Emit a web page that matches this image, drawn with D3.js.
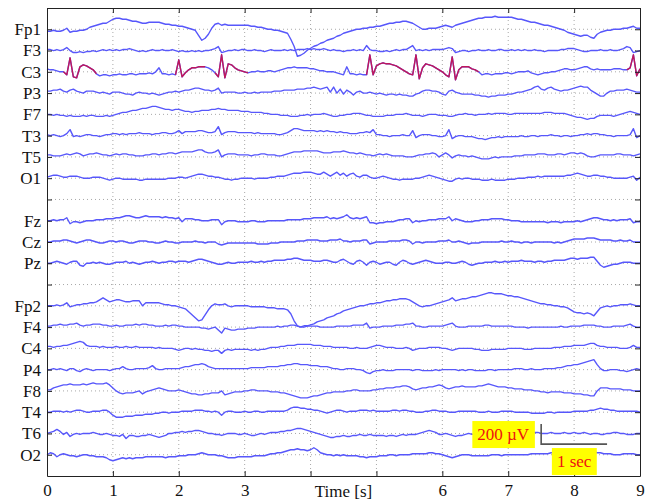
<!DOCTYPE html>
<html>
<head>
<meta charset="utf-8">
<script src="https://cdn.jsdelivr.net/npm/d3@7"></script>
<style>
  body { margin: 0; background: #fff; }
  svg { display: block; }
</style>
</head>
<body>
<svg id="chart" width="645" height="504"></svg>
<script>
// ---- recording layout -------------------------------------------------
const SAMPLE_STEP = 0.05;           // seconds between samples
const DURATION = 9;                 // seconds shown
const SLOT_UV = 212.7;              // vertical spacing between montage rows, in µV

// montage rows, top to bottom ("" = spacer row)
const slotLabels = ["Fp1","F3","C3","P3","F7","T3","T5","O1","",
                    "Fz","Cz","Pz","",
                    "Fp2","F4","C4","P4","F8","T4","T6","O2"];

const timeTicks = [0,1,2,3,4,5,6,7,8,9];
const timeTickLabels = ["0","1","2","3","","","6","7","8","9"];

// spike-and-wave complexes on C3 (start, end) in seconds
const c3Complexes = [[0.24,0.76],[1.94,2.40],[2.53,3.05],[4.83,5.46],[5.49,6.07],[6.07,6.57],[8.77,9.0]];

// scale bar: 200 µV by 1 s
const scaleBarUV = 200;
const scaleBarSec = 1;

// ---- channel samples (µV, one every 0.05 s) ---------------------------
const fp1 = [-20,-20,-10,-20,-20,-10,10,-30,-20,-20,
 -10,-10,0,20,30,40,50,60,60,80,
 100,110,110,100,100,90,80,80,70,60,
 60,70,70,70,70,60,50,50,40,40,
 30,30,20,10,0,-10,-60,-110,-90,-50,
 10,50,60,40,50,40,40,40,40,40,
 40,40,30,30,20,20,10,0,0,-10,
 -10,-20,-30,-40,-100,-170,-270,-260,-240,-210,
 -190,-170,-160,-140,-130,-110,-100,-90,-70,-60,
 -40,-30,-20,-10,0,0,10,10,20,20,
 30,30,40,50,60,60,70,70,80,80,
 70,60,40,20,0,0,10,10,10,20,
 30,40,30,20,40,50,60,70,80,90,
 100,110,110,120,120,120,130,120,120,120,
 120,120,110,100,100,90,80,70,70,60,
 50,40,40,30,20,10,0,-10,-30,-40,
 -50,-60,-70,-60,-60,-80,-90,-50,-30,-20,
 -10,-10,0,0,0,10,10,20,30,10,
 10];

const f3 = [10,10,0,10,0,10,30,0,-20,-20,
 -10,-20,-10,-10,0,-10,0,10,0,10,
 0,10,0,10,10,20,10,0,-10,0,
 -10,0,10,0,0,10,0,0,10,0,
 -10,0,-10,-10,0,-10,0,-10,0,0,
 10,20,40,-20,-10,0,0,10,0,10,
 10,0,0,10,0,0,-10,0,10,0,
 0,0,10,0,10,0,10,10,10,20,
 10,20,10,10,20,10,0,10,0,0,
 -10,0,0,10,0,10,0,50,10,0,
 0,-10,-10,0,-10,0,10,0,10,10,
 30,50,0,10,0,10,0,10,10,10,
 10,20,30,20,-20,-10,0,0,-10,0,
 0,10,0,0,10,0,0,10,10,0,
 0,10,0,10,0,10,0,0,10,0,
 0,-10,0,0,0,0,10,10,20,20,
 20,10,0,-10,-10,0,0,0,10,0,
 0,10,0,0,10,20,40,30,-20,-10,
 0];

const c3 = [30,20,20,10,0,0,-30,140,-50,-60,
 50,70,60,40,20,-20,-40,-30,-30,-40,
 -30,-30,-20,-30,-30,-20,-20,-30,-20,-20,
 -20,-10,-20,0,40,-20,-20,-30,-20,-30,
 120,-50,-10,20,40,40,50,50,50,40,
 20,-10,-50,170,-60,80,70,40,20,10,
 0,-10,0,0,10,0,0,10,10,0,
 10,20,30,40,40,50,40,40,40,40,
 30,30,20,10,10,0,0,0,-10,-20,
 -30,50,-20,-20,-30,-20,-30,-30,170,-30,
 60,80,90,80,80,70,60,40,20,0,
 -20,-30,170,-70,40,80,70,60,40,20,
 0,-30,-50,150,-80,20,50,50,50,30,
 20,0,-30,-20,-20,-30,-20,-20,-20,-10,
 -10,-20,-10,0,0,0,10,-10,-20,-30,
 -20,-10,-10,0,0,10,20,30,30,20,
 20,30,40,50,50,30,20,30,20,20,
 20,20,30,30,30,20,20,40,170,-40,
 30];

const p3 = [20,20,30,30,40,20,10,30,40,20,
 10,0,20,20,20,10,0,10,0,-10,
 10,10,10,0,-10,-10,-20,0,10,0,
 0,-10,0,-10,-20,-10,0,10,10,20,
 10,20,30,30,40,50,50,40,30,30,
 20,30,50,0,10,10,10,10,0,0,
 10,0,0,10,0,10,10,10,10,20,
 20,20,30,30,30,30,40,40,40,50,
 50,60,50,40,50,60,10,60,0,40,
 -10,30,10,-20,10,20,0,0,10,0,
 -10,0,-10,-20,-10,-10,-20,-10,-20,-20,
 -30,-30,-10,0,20,30,30,20,20,10,
 -10,-20,20,30,10,0,-10,-10,-10,-10,
 -20,-20,-30,-30,-40,-30,-30,-20,-20,-20,
 -10,-10,0,10,10,20,30,40,60,70,
 40,30,50,60,40,30,20,30,30,40,
 50,60,70,60,60,30,10,-10,-30,-30,
 0,20,20,30,30,30,40,30,20,10,
 10];

const f7 = [0,0,-10,0,-10,-10,-20,-10,-20,-20,
 -20,-10,-20,-10,-10,-20,-20,-20,-10,-20,
 -10,0,10,20,20,30,40,40,50,60,
 60,70,80,80,70,60,50,50,40,50,
 50,40,30,30,20,30,30,40,40,40,
 50,50,60,50,50,40,40,40,40,30,
 30,30,20,20,20,20,10,10,0,0,
 0,-10,-10,-10,-20,-20,-20,-10,-10,0,
 -10,0,0,0,10,0,-10,-20,-20,-10,
 -10,0,0,10,10,10,0,-10,-10,-20,
 -20,-20,-20,-10,-10,-10,0,0,0,10,
 0,-10,-10,-10,-20,-10,0,0,0,-10,
 -10,-10,-20,-20,-10,0,0,10,0,0,
 -10,0,0,0,10,0,10,10,10,10,
 0,0,10,10,10,10,10,10,10,10,
 10,20,20,20,10,10,10,10,0,-10,
 -20,-30,-30,-40,-50,-40,-40,-20,-10,-10,
 -10,-10,-20,-10,0,10,20,30,20,10,
 0];

const t3 = [10,0,10,0,-10,0,20,60,-10,0,
 -10,0,10,10,0,0,-10,0,10,10,
 20,20,10,20,10,20,20,20,30,20,
 20,20,10,20,20,30,30,20,20,30,
 50,20,40,40,40,40,50,50,40,30,
 30,40,90,10,30,40,40,40,30,30,
 30,30,30,20,30,20,20,20,20,20,
 10,10,20,30,50,70,70,60,50,50,
 50,50,40,50,40,50,40,40,30,40,
 30,30,20,20,20,30,30,40,30,60,
 10,10,0,0,-10,0,0,0,10,0,
 0,50,-20,0,10,10,10,0,0,-10,
 -10,0,60,-30,-10,0,0,-10,-10,-10,
 -20,-30,-30,-40,-30,-20,-20,-10,-20,-10,
 -10,-10,-10,-10,0,-10,-10,0,0,-10,
 0,0,0,10,0,0,-10,0,0,-10,
 0,0,10,10,20,10,20,20,10,10,
 0,0,-10,0,0,0,0,10,70,-20,
 0];

const t5 = [20,20,10,10,10,20,30,20,30,40,
 30,10,20,30,30,40,30,20,20,10,
 20,30,20,30,30,20,20,10,10,10,
 20,20,30,30,20,30,30,40,40,30,
 40,50,50,50,50,60,70,70,50,40,
 40,50,70,0,20,30,30,30,20,20,
 20,20,10,20,20,30,30,20,20,20,
 10,10,20,30,40,50,50,50,60,60,
 60,60,60,50,40,40,40,50,50,50,
 60,50,40,40,30,40,30,20,20,10,
 20,30,20,30,20,10,10,10,10,0,
 0,0,10,20,20,30,30,40,30,0,
 20,40,20,-10,10,20,10,10,0,10,
 0,-10,-20,-20,-20,-10,0,-10,0,0,
 0,0,10,10,10,20,20,20,20,30,
 30,30,20,20,20,30,30,20,30,40,
 40,30,40,30,10,0,0,10,20,20,
 20,20,20,30,30,20,20,20,10,20,
 30];

const o1 = [10,20,30,30,20,10,10,20,20,20,
 10,0,0,0,10,10,10,0,-10,-20,
 -10,0,0,-10,-10,-10,-10,-10,-20,-20,
 -10,-10,-10,-10,-10,-10,-10,0,0,0,
 10,10,0,10,20,30,40,40,30,20,
 20,10,10,0,-10,-10,-20,-10,-10,0,
 0,0,0,-10,0,0,0,0,10,10,
 20,20,20,30,40,50,50,50,60,60,
 60,50,40,40,60,40,20,40,60,30,
 50,20,40,50,20,10,30,30,10,0,
 0,10,20,10,0,-10,-10,-20,-10,-10,
 -10,-10,0,0,10,20,30,20,10,0,
 -10,-20,-30,-30,-10,0,-10,0,0,-10,
 -10,-10,-20,-20,-20,-10,-20,-20,-20,-20,
 -10,-10,-10,0,0,0,10,10,10,20,
 10,20,20,20,20,20,20,20,30,30,
 40,50,40,30,20,20,30,30,20,20,
 10,10,0,0,0,0,0,10,20,-20,
 10];

const fz = [0,0,10,0,10,10,30,-30,-10,-10,
 -20,-10,0,0,0,10,10,10,20,20,
 20,30,30,40,50,50,40,30,30,40,
 50,40,40,40,40,30,40,30,30,20,
 30,-10,20,20,20,10,10,0,0,0,
 10,10,10,-40,-10,0,0,0,-10,-10,
 -10,-10,0,0,-10,-10,-10,0,0,0,
 0,0,0,10,10,10,10,10,20,20,
 20,30,30,30,30,40,20,30,20,30,
 40,60,30,20,30,20,30,40,-20,-20,
 -30,-20,-20,-10,-10,-10,0,10,10,20,
 20,-20,0,-10,0,0,10,10,10,20,
 20,20,40,0,20,10,0,-10,-10,-10,
 0,0,10,10,10,20,20,20,20,10,
 10,0,0,0,-10,-10,-10,-10,-10,-10,
 -10,-10,-20,-10,-10,-10,-20,-10,-10,-10,
 -10,0,-10,0,10,20,30,30,20,10,
 10,0,10,0,10,10,10,20,-20,-10,
 -10];

const cz = [0,0,10,10,10,20,20,10,0,-10,
 0,10,20,20,10,0,-10,-10,0,10,
 10,0,10,10,0,-10,-10,0,10,10,
 10,0,0,-10,-10,0,10,0,0,-10,
 -10,0,0,0,0,10,0,0,-10,0,
 0,0,-20,-30,-20,-10,-10,-10,-10,-10,
 -10,-10,-10,-10,-20,-20,-20,-20,-10,-10,
 -10,0,0,0,0,0,10,10,10,20,
 20,20,20,10,10,10,20,20,20,30,
 10,10,0,10,10,10,20,20,-20,-10,
 0,0,0,0,10,10,10,10,20,20,
 10,-20,0,0,-10,0,0,0,0,10,
 10,10,20,0,0,10,0,-10,-20,-10,
 -10,-10,0,0,0,0,0,0,10,0,
 0,10,0,0,-10,0,0,-10,0,0,
 0,0,0,0,-10,0,-10,0,10,20,
 30,30,30,30,40,40,40,30,20,20,
 20,20,10,10,20,10,10,20,0,0,
 0];

const pz = [0,0,10,20,10,0,-10,10,20,20,
 -20,-30,0,0,10,0,10,0,-10,-10,
 0,10,10,10,20,0,10,0,-10,0,
 10,10,20,10,0,10,10,20,20,10,
 20,20,20,10,20,30,40,40,30,20,
 10,0,-10,-10,0,10,0,0,10,10,
 10,10,20,10,10,20,10,20,20,30,
 30,30,30,40,40,50,50,40,30,30,
 30,20,20,20,30,30,20,10,10,30,
 40,20,0,-10,20,30,10,-20,10,20,
 10,-10,0,10,10,-10,-20,10,30,20,
 0,-10,0,10,20,30,20,10,0,0,
 0,10,10,0,0,10,20,10,-10,-20,
 -10,0,0,10,10,10,20,10,10,20,
 10,20,20,20,30,20,20,20,10,20,
 20,10,20,20,30,30,30,30,40,50,
 50,40,50,50,50,60,60,20,-20,-40,
 -30,-20,-10,-10,0,10,10,10,0,0,
 0];

const fp2 = [0,0,0,10,0,10,30,-10,0,10,
 10,20,20,30,30,40,60,80,60,40,
 50,60,60,50,40,40,50,50,50,0,
 30,30,30,30,30,20,10,10,0,0,
 -10,-20,-30,-60,-90,-120,-150,-140,-90,-40,
 0,20,10,10,20,0,-10,0,0,0,
 0,0,-10,-10,-10,-10,-10,-20,-20,-20,
 -30,-30,-30,-40,-80,-150,-200,-210,-200,-200,
 -190,-180,-160,-150,-140,-120,-110,-100,-80,-70,
 -50,-40,-30,-20,-10,0,0,10,20,20,
 30,30,40,50,50,60,60,70,70,70,
 60,40,20,0,-10,0,0,10,20,30,
 40,50,60,80,50,60,70,70,80,90,
 90,100,110,120,130,130,120,120,120,110,
 100,100,90,90,80,70,60,50,40,30,
 20,20,10,10,0,0,-10,-10,-20,-40,
 -60,-70,-70,-80,-70,-80,-100,-60,-20,-10,
 0,-10,0,0,10,10,10,20,10,0,
 0];

const f4 = [10,10,20,20,30,20,20,30,30,40,
 20,10,20,20,30,30,30,20,20,10,
 10,20,10,10,20,20,20,30,20,30,
 30,20,20,10,10,10,20,10,20,20,
 10,10,0,0,0,0,0,-10,-10,-20,
 -10,0,-30,-60,-10,-20,-30,-30,-20,-20,
 -20,-10,-10,-10,0,0,0,0,0,0,
 10,0,10,10,20,20,10,0,0,10,
 10,10,10,0,0,0,0,0,10,10,
 10,10,10,20,20,20,20,40,-10,0,
 0,0,10,10,10,10,20,20,20,30,
 30,40,10,10,0,0,10,10,10,10,
 10,20,30,40,10,0,0,0,10,10,
 10,10,10,20,20,10,10,10,10,10,
 10,10,0,0,0,0,-10,0,0,0,
 0,0,0,0,0,0,10,0,0,10,
 10,10,10,20,20,20,20,10,10,0,
 0,0,10,10,10,10,20,30,10,0,
 0];

const c4 = [20,20,10,20,20,30,30,40,50,60,
 70,60,30,20,20,20,10,20,10,10,
 10,20,10,10,20,10,10,20,10,10,
 10,10,10,0,10,0,0,0,0,-10,
 -20,-10,0,0,-10,0,-10,-10,-20,-20,
 -30,-20,-20,-50,-20,-10,-20,-10,-10,-10,
 -10,-10,-20,-10,-20,-10,-10,0,10,10,
 10,20,20,30,30,30,40,40,40,40,
 40,30,30,30,20,20,20,10,10,10,
 10,10,0,0,10,0,0,0,10,20,
 30,30,20,10,10,10,0,0,0,10,
 0,-20,-10,0,0,0,10,10,10,10,
 0,0,-10,-20,-10,0,0,0,0,0,
 -10,-10,-20,-20,-20,-10,-10,-10,-10,-10,
 0,0,0,0,0,-10,-10,-10,0,0,
 0,0,0,0,10,10,10,20,20,20,
 30,30,30,30,40,50,50,30,20,20,
 10,10,10,10,0,0,0,10,30,10,
 10];

const p4 = [0,0,10,0,10,0,-10,10,10,-10,
 -20,0,10,0,-10,0,0,0,0,-10,
 0,10,10,30,10,0,0,10,10,10,
 10,20,40,10,0,0,10,10,10,10,
 10,20,30,30,40,50,50,60,50,30,
 20,10,10,10,10,10,10,10,10,10,
 10,10,20,20,20,20,20,30,30,30,
 30,40,40,50,50,60,60,50,50,50,
 40,40,40,30,30,30,20,10,10,0,
 0,10,10,10,0,0,-10,-30,-40,-20,
 -10,-10,0,-10,-10,-10,0,0,0,0,
 0,-10,0,0,-10,-10,-10,-10,0,-10,
 0,0,0,0,0,-10,0,-10,0,0,
 -10,-10,-10,-10,0,0,-10,0,0,0,
 0,0,10,10,10,0,0,10,0,0,
 0,10,10,10,10,20,20,30,40,40,
 50,50,60,70,80,90,100,50,10,-10,
 -10,0,0,0,-10,-10,-20,-10,0,10,
 0];

const f8 = [10,10,30,40,50,60,60,70,60,60,
 60,70,60,70,80,70,70,70,80,60,
 30,0,-20,-30,-20,-20,-20,-10,0,-30,
 -10,0,10,20,30,20,10,0,0,0,
 10,0,-10,-20,-30,-30,-40,-40,-30,-30,
 -20,-20,-20,0,-40,-30,-20,-10,-10,-10,
 0,0,10,10,0,0,0,0,-10,-10,
 -10,-20,-20,-30,-40,-50,-60,-70,-70,-70,
 -60,-50,-50,-40,-30,-20,-20,-10,-10,-10,
 -10,0,0,10,10,0,0,0,0,10,
 10,20,20,30,30,30,40,40,50,50,
 40,20,10,20,30,30,40,40,50,60,
 50,30,20,30,40,40,50,40,40,40,
 40,50,50,60,70,60,50,40,40,40,
 30,30,20,20,20,10,10,10,0,0,
 -10,-10,-20,-10,-10,-10,-10,-20,-20,-20,
 -30,-30,-30,-40,-40,-50,-50,0,30,30,
 30,20,20,20,20,10,10,10,0,0,
 0];

const t4 = [0,0,10,10,10,0,10,0,10,20,
 20,10,0,0,10,10,10,20,20,0,
 -30,-50,-50,-50,-40,-40,-40,-30,-30,-30,
 -20,-20,-20,-10,-10,0,0,-10,0,0,
 0,10,10,10,10,20,20,20,10,10,
 0,10,0,-30,0,10,10,0,0,0,
 10,0,0,10,10,0,0,10,10,10,
 10,10,10,20,40,50,50,40,40,30,
 30,20,20,10,0,-10,0,10,20,20,
 10,0,10,10,10,20,20,20,10,20,
 10,10,10,10,10,20,20,10,20,20,
 10,10,0,0,0,10,10,20,20,10,
 10,10,0,0,0,10,10,10,10,10,
 10,0,0,0,10,0,0,0,10,10,
 10,10,0,0,0,0,0,-10,-10,-10,
 -10,-10,0,0,-10,0,0,0,0,0,
 10,10,10,10,10,20,20,30,40,30,
 30,20,20,10,10,10,10,10,10,10,
 0];

const t6 = [0,10,20,40,20,-10,10,-30,-10,0,
 -10,0,0,0,10,0,-10,-10,0,-10,
 -20,-20,-30,-10,-50,-20,-20,-30,-30,-20,
 -20,-10,-20,-30,-40,-30,-20,0,0,10,
 10,20,10,20,20,30,30,20,10,0,
 0,-10,-10,-20,-10,0,0,0,-10,-10,
 0,-10,-20,-20,-10,0,-10,0,10,10,
 10,20,20,30,30,40,50,50,40,30,
 20,10,0,-10,-20,-30,-40,-40,-30,-30,
 -20,-30,-30,-20,-20,-10,-20,-20,-10,-20,
 -20,-20,-20,-30,-20,-20,-30,-20,-10,-20,
 -10,-10,-10,0,10,20,30,20,10,-10,
 -10,0,-10,-20,-30,-20,-20,-10,0,-10,
 0,-10,-10,-20,-20,-10,-10,-10,-10,-10,
 -10,0,0,-10,-10,-10,0,0,10,10,
 0,0,0,10,0,0,0,10,0,0,
 10,0,0,10,0,-10,0,0,-10,-10,
 0,0,10,10,0,0,-10,-10,-10,0,
 0];

const o2 = [0,20,10,-20,0,10,0,-10,-10,-20,
 -10,0,0,-10,-10,-20,-20,-20,-30,-50,
 -60,-50,-40,-30,-40,-30,-40,-30,-30,-30,
 -20,-20,-20,-20,-20,-20,-30,-20,-20,-20,
 -10,-10,-10,0,0,0,10,20,10,0,
 0,0,-10,-10,-20,-30,-30,-30,-20,-20,
 -20,-20,-20,-10,-10,-10,-10,0,10,10,
 20,20,30,40,50,50,60,50,50,40,
 50,70,50,20,10,0,0,-10,0,-10,
 0,-10,-10,-10,-10,-20,-20,-30,-20,-20,
 -20,-10,-10,-10,0,0,-10,0,0,0,
 0,10,10,10,10,10,20,20,10,10,
 0,-10,-20,-30,-20,-10,0,0,0,-10,
 -10,-10,-10,-10,-10,0,0,0,-10,0,
 0,0,0,0,0,0,0,10,10,10,
 10,10,10,20,20,20,20,20,20,20,
 20,20,20,30,30,30,30,20,20,10,
 10,10,0,0,0,10,10,10,10,0,
 0];

const channelData = {
  Fp1: fp1, F3: f3, C3: c3, P3: p3, F7: f7, T3: t3, T5: t5, O1: o1,
  Fz: fz, Cz: cz, Pz: pz,
  Fp2: fp2, F4: f4, C4: c4, P4: p4, F8: f8, T4: t4, T6: t6, O2: o2
};

// ---- drawing ------------------------------------------------------------
const W = 645, H = 504;
const margin = { top: 8, right: 5, bottom: 28, left: 47 };
const TRACE_COLOR = "#5757fb";
const COMPLEX_COLOR = "#c0175a";
const FONT = "'Liberation Serif','Times New Roman',serif";

const svg = d3.select("#chart");

const x = d3.scaleLinear()
  .domain([0, DURATION])
  .range([margin.left, W - margin.right]);

// vertical position in µV: row k sits at -k * SLOT_UV
const y = d3.scaleLinear()
  .domain([SLOT_UV, -slotLabels.length * SLOT_UV])
  .range([margin.top, H - margin.bottom]);

const slotPos = slotLabels.map((_, k) => -k * SLOT_UV);

// dotted grid
const grid = svg.append("g")
  .attr("stroke", "#a8a8a8")
  .attr("stroke-width", 1)
  .attr("stroke-dasharray", "1,3");

grid.selectAll("line.h")
  .data(slotPos)
  .join("line")
  .attr("class", "h")
  .attr("x1", x(0)).attr("x2", x(DURATION))
  .attr("y1", d => y(d)).attr("y2", d => y(d));

grid.selectAll("line.v")
  .data(timeTicks.filter(t => t > 0 && t < DURATION))
  .join("line")
  .attr("class", "v")
  .attr("x1", d => x(d)).attr("x2", d => x(d))
  .attr("y1", y.range()[0]).attr("y2", y.range()[1]);

// traces
const rows = slotLabels
  .map((name, k) => ({ name, k }))
  .filter(r => r.name && channelData[r.name]);

const traceLine = row => d3.line()
  .x((d, i) => x(i * SAMPLE_STEP))
  .y(d => y(-row.k * SLOT_UV + d));

svg.append("g")
  .attr("fill", "none")
  .attr("stroke", TRACE_COLOR)
  .attr("stroke-width", 1.4)
  .attr("stroke-linejoin", "round")
  .selectAll("path")
  .data(rows)
  .join("path")
  .attr("d", r => traceLine(r)(channelData[r.name]));

// highlighted complexes on C3
const inComplex = t => c3Complexes.some(([a, b]) => t >= a - 1e-6 && t <= b + 1e-6);
const c3Row = rows.find(r => r.name === "C3");
svg.append("path")
  .attr("fill", "none")
  .attr("stroke", COMPLEX_COLOR)
  .attr("stroke-width", 1.4)
  .attr("stroke-linejoin", "round")
  .attr("d", traceLine(c3Row).defined((d, i) => inComplex(i * SAMPLE_STEP))(channelData.C3));

// frame with inward ticks on all four sides
function styleAxis(g) {
  g.attr("color", "#222")
   .attr("font-family", FONT)
   .attr("font-size", 17);
  g.selectAll("text").attr("fill", "#111");
}

svg.append("g")
  .attr("transform", `translate(0,${y.range()[1]})`)
  .call(d3.axisBottom(x).tickValues(timeTicks).tickSize(-5).tickSizeOuter(0).tickPadding(8)
        .tickFormat((d, i) => timeTickLabels[i]))
  .call(styleAxis);

svg.append("g")
  .attr("transform", `translate(0,${y.range()[0]})`)
  .call(d3.axisTop(x).tickValues(timeTicks).tickSize(-5).tickSizeOuter(0).tickFormat(""))
  .call(styleAxis);

svg.append("g")
  .attr("transform", `translate(${x.range()[0]},0)`)
  .call(d3.axisLeft(y).tickValues(slotPos).tickSize(-5).tickSizeOuter(0).tickPadding(6)
        .tickFormat((d, i) => slotLabels[i]))
  .call(styleAxis);

svg.append("g")
  .attr("transform", `translate(${x.range()[1]},0)`)
  .call(d3.axisRight(y).tickValues(slotPos).tickSize(-5).tickSizeOuter(0).tickFormat(""))
  .call(styleAxis);

// axis title
svg.append("text")
  .attr("x", 343.5)
  .attr("y", 497)
  .attr("text-anchor", "middle")
  .attr("font-family", FONT)
  .attr("font-size", 17)
  .attr("fill", "#111")
  .text("Time [s]");

// calibration bar
const barT = 7.5;
const barBase = -19.5 * SLOT_UV;
const bar = svg.append("g");
bar.append("path")
  .attr("fill", "none")
  .attr("stroke", "#555")
  .attr("stroke-width", 1.6)
  .attr("d", `M${x(barT)},${y(barBase + scaleBarUV)}V${y(barBase)}H${x(barT + scaleBarSec)}`);

function boxedLabel(text, px, py, anchor) {
  const g = bar.append("g");
  const t = g.append("text")
    .attr("x", px).attr("y", py)
    .attr("dy", "0.35em")
    .attr("text-anchor", anchor)
    .attr("font-family", FONT)
    .attr("font-size", 17)
    .attr("fill", "#ee1111")
    .text(text);
  const bb = t.node().getBBox();
  g.insert("rect", "text")
    .attr("x", bb.x - 5).attr("y", bb.y - 4)
    .attr("width", bb.width + 10).attr("height", bb.height + 8)
    .attr("fill", "#ffff00");
}

boxedLabel(`${scaleBarUV} µV`, x(barT) - 12, (y(barBase) + y(barBase + scaleBarUV)) / 2, "end");
boxedLabel(`${scaleBarSec} sec`, x(barT + scaleBarSec / 2), y(barBase) + 17, "middle");
</script>
</body>
</html>
